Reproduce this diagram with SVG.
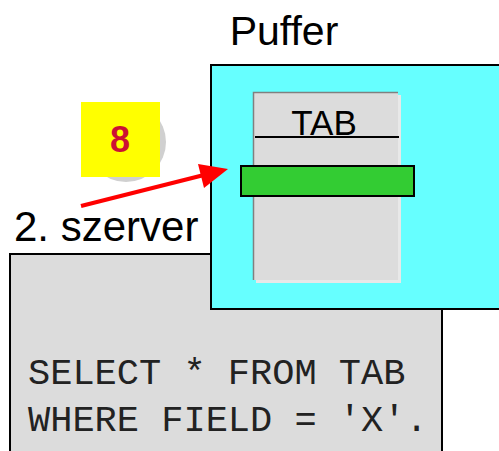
<svg xmlns="http://www.w3.org/2000/svg" width="499" height="451" viewBox="0 0 499 451">
<style>
.sans{font-family:"Liberation Sans",Arial,sans-serif;fill:#000}
.mono{font-family:"Liberation Mono","Courier New",monospace;fill:#222;font-size:37px}
.box{stroke:#000;stroke-width:2}
</style>
<rect width="499" height="451" fill="#fff"/>
<g id="server">
<rect class="box" x="10" y="254" width="432" height="210" fill="#dcdcdc"/>
<text class="sans" x="14" y="241" font-size="42">2. szerver</text>
<text class="mono" x="28" y="384">SELECT * FROM TAB</text>
<text class="mono" x="28" y="431">WHERE FIELD = 'X'.</text>
</g>
<g id="puffer">
<rect class="box" x="211" y="65" width="300" height="244" fill="#66ffff"/>
<text class="sans" x="284" y="45" font-size="41" text-anchor="middle">Puffer</text>
</g>
<g id="tab">
<rect x="256" y="95" width="145" height="188" fill="#e8e8e8"/>
<rect x="253" y="92" width="145" height="188" fill="#dcdcdc"/>
<path d="M253.5,280 V92.5 H398" fill="none" stroke="#808080" stroke-width="1.5"/>
<line x1="255" y1="137" x2="399" y2="137" stroke="#000" stroke-width="2"/>
<text class="sans" x="324" y="135" font-size="35" text-anchor="middle">TAB</text>
</g>
<g id="record">
<rect class="box" x="241" y="166" width="173" height="30" fill="#33cc33"/>
</g>
<g id="step8">
<circle cx="126" cy="142" r="40" fill="#d0d0d0"/>
<rect x="81" y="102" width="79" height="75" fill="#ffff00"/>
<text x="120" y="152" font-family="Liberation Sans, Arial, sans-serif" font-size="36" font-weight="bold" fill="#cc1133" text-anchor="middle">8</text>
</g>
<g id="connectors">
<line x1="81" y1="206" x2="202" y2="175.5" stroke="#ff0000" stroke-width="4"/>
<polygon points="228,169 198,164 204,188" fill="#ff0000"/>
</g>
</svg>
